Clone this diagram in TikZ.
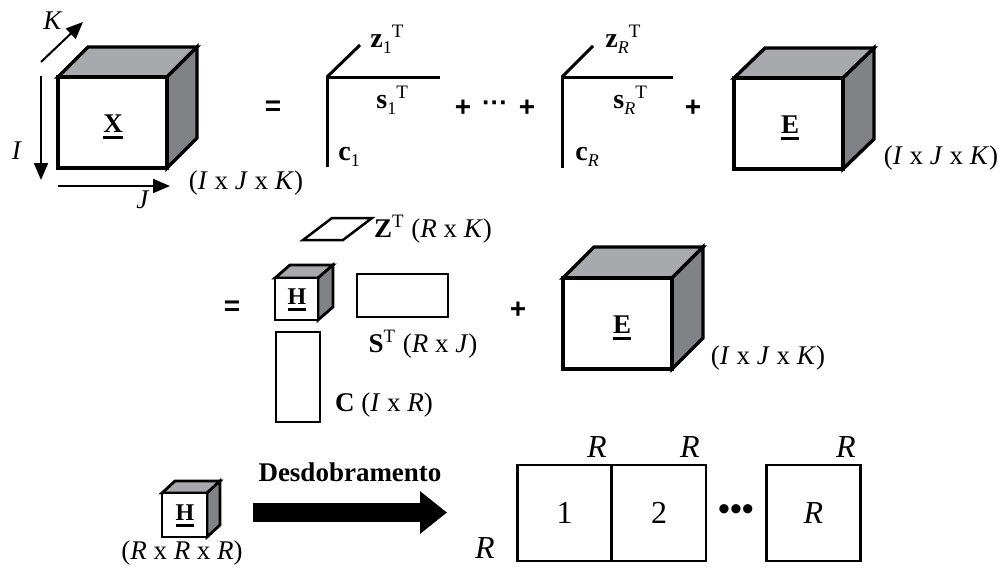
\documentclass[tikz,border=0pt]{standalone}
\usepackage{fontspec}
\setmainfont{Liberation Serif}
\newfontfamily\sansf{Liberation Sans}
\usetikzlibrary{arrows.meta}
\definecolor{topgray}{HTML}{A7A9AC}
\definecolor{sidegray}{HTML}{808285}
% cube: front top-left (#1,#2), front bottom-right (#3,#4), depth offset (#5,#6), line width #7
\newcommand{\tcube}[7]{%
  \filldraw[line width=#7,line join=miter,fill=topgray] (#1,#2) -- ({#1+#5},{#2-#6}) -- ({#3+#5},{#2-#6}) -- (#3,#2) -- cycle;
  \filldraw[line width=#7,line join=miter,fill=sidegray] (#3,#2) -- ({#3+#5},{#2-#6}) -- ({#3+#5},{#4-#6}) -- (#3,#4) -- cycle;
  \filldraw[line width=#7,line join=miter,fill=white] (#1,#2) rectangle (#3,#4);
}
\newcommand{\ubf}[1]{\setbox0\hbox{\textbf{#1}}\rlap{\raisebox{-3pt}{\rule{\wd0}{1.3pt}}}\box0}
\newcommand{\vlab}[3]{{\fontsize{14}{16}\selectfont\textbf{#1}}\raisebox{-3pt}{\fontsize{9}{10}\selectfont #2}\raisebox{5pt}{\fontsize{9.5}{10}\selectfont #3}}
\begin{document}
\begin{tikzpicture}[x=0.5pt,y=-0.5pt,
  every node/.style={font=\fontsize{13.5}{16}\selectfont, inner sep=0pt},
  axis/.style={line width=1pt,-{Triangle[length=8.5pt,width=7pt]}},
  rank/.style={line width=1.5pt,line join=miter},
  op/.style={font=\sansf\bfseries\fontsize{14}{16}\selectfont},
  matbox/.style={draw,line width=1.25pt},
  unfold/.style={draw,line width=1.3pt,minimum width=47pt,minimum height=48pt,font=\fontsize{16}{18}\selectfont},
  big/.style={font=\fontsize{16}{18}\selectfont}]
\useasboundingbox (0,0) rectangle (1001,574);

% ---- top row: X = sum of rank-one terms + E
\tcube{58}{77}{167}{168}{30}{30}{1.7pt}
\node (X) at (113,127) {\ubf{X}};
\coordinate (Ks) at (41,62); \coordinate (Ke) at (83,22);
\coordinate (Is) at (41,76); \coordinate (Ie) at (41,180);
\coordinate (Js) at (58,186); \coordinate (Je) at (170,186);
\draw[axis] (Ks) -- (Ke);
\draw[axis] (Is) -- (Ie);
\draw[axis] (Js) -- (Je);
\node (Klab) at (53,21) {\textit{K}};
\node (Ilab) at (17,151) {\textit{I}};
\node (Jlab) at (143,200) {\textit{J}};
\node (dimX) at (246,183) {(\textit{I} x \textit{J} x \textit{K})};

\node[op] (eq1) at (273,108) {=};

\coordinate (o1) at (327,77); \coordinate (o1c) at (327,167);
\coordinate (o1s) at (440,77); \coordinate (o1z) at (360,45);
\draw[rank] (o1c) -- (o1) -- (o1s);
\draw[rank] (o1) -- (o1z);
\node[anchor=base west] (z1) at (370,47) {\vlab{z}{1}{T}};
\node[anchor=base west] (s1) at (376,108) {\vlab{s}{1}{T}};
\node[anchor=base west] (c1) at (338,160) {\vlab{c}{1}{}};

\node[op] (plus1) at (463,108) {+};
\node[op,font=\sansf\bfseries\fontsize{13}{16}\selectfont] (dots1) at (495,106) {···};
\node[op] (plus2) at (527,108) {+};

\coordinate (oR) at (562,77); \coordinate (oRc) at (562,168);
\coordinate (oRs) at (673,77); \coordinate (oRz) at (593,46);
\draw[rank] (oRc) -- (oR) -- (oRs);
\draw[rank] (oR) -- (oRz);
\node[anchor=base west] (zR) at (605,47) {\vlab{z}{\textit{R}}{T}};
\node[anchor=base west] (sR) at (613,108) {\vlab{s}{\textit{R}}{T}};
\node[anchor=base west] (cR) at (575,160) {\vlab{c}{\textit{R}}{}};

\node[op] (plus3) at (693,108) {+};
\tcube{734}{78}{843}{169}{31}{30}{1.7pt}
\node (E1) at (790,128) {\ubf{E}};
\node (dimE1) at (941,158) {(\textit{I} x \textit{J} x \textit{K})};

% ---- middle row: Tucker-like form
\node[op] (eq2) at (232,308) {=};
\draw[line width=1.25pt,line join=miter] (303,240) -- (343,240) -- (372,218) -- (332,218) -- cycle;
\node (ZT) at (433,229) {\textbf{Z}\textsuperscript{T} (\textit{R} x \textit{K})};
\tcube{275}{278}{318}{320}{15}{13}{1.4pt}
\node[font=\fontsize{12}{14}\selectfont] (H1) at (297,300) {\ubf{H}};
\node[matbox,minimum width=45.5pt,minimum height=21.5pt] (S) at (402.5,295.5) {};
\node (ST) at (423,344) {\textbf{S}\textsuperscript{T} (\textit{R} x \textit{J})};
\node[matbox,minimum width=22pt,minimum height=45pt] (C) at (298,377) {};
\node (Clab) at (384,405) {\textbf{C} (\textit{I} x \textit{R})};

\node[op] (plus4) at (518,310) {+};
\tcube{563}{278}{672}{369}{31}{31}{1.7pt}
\node (E2) at (622,328) {\ubf{E}};
\node (dimE2) at (768,358) {(\textit{I} x \textit{J} x \textit{K})};

% ---- bottom row: unfolding of H
\tcube{162}{493}{207}{537}{13}{12}{1.4pt}
\node[font=\fontsize{12}{14}\selectfont] (H2) at (185,516) {\ubf{H}};
\node (dimH) at (182,553) {(\textit{R} x \textit{R} x \textit{R})};
\node[font=\fontsize{13.5}{16}\selectfont\bfseries] (unf) at (350,472) {Desdobramento};
\coordinate (as) at (253,512.5); \coordinate (ae) at (447,512.5);
\draw[line width=9.5pt,-{Triangle[length=13.5pt,width=20.5pt]}] (as) -- (ae);

\node[unfold] (b1) at (564.5,513) {1};
\node[unfold] (b2) at (659,513) {2};
\node[unfold] (b3) at (813.5,513) {\textit{R}};
\node[font=\sansf\fontsize{17}{18}\selectfont] (dots2) at (736,513) {•••};
\node[big] (r1) at (597,447) {\textit{R}};
\node[big] (r2) at (690,447) {\textit{R}};
\node[big] (r3) at (846,447) {\textit{R}};
\node[big] (r4) at (485,548) {\textit{R}};
\end{tikzpicture}
\end{document}
